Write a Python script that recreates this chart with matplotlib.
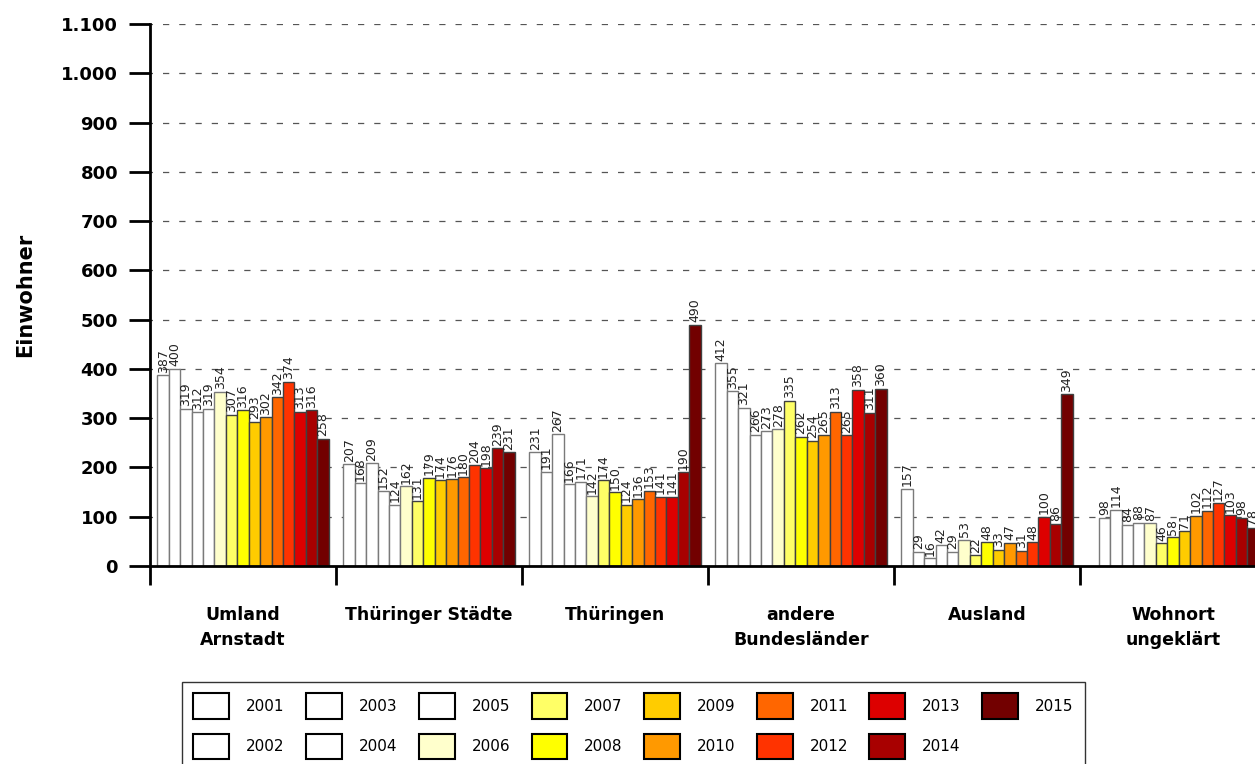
import numpy as np
import matplotlib
matplotlib.use("Agg")
import matplotlib.pyplot as plt
import matplotlib.patches as patches
from matplotlib.ticker import FuncFormatter

years = [str(y) for y in range(2001, 2016)]
categories = ["Umland\nArnstadt", "Thüringer Städte", "Thüringen",
              "andere\nBundesländer", "Ausland", "Wohnort\nungeklärt"]

# values per category, one per year 2001..2015 (nan = no value)
umland = [387, 400, 319, 312, 319, 354, 307, 316, 293, 302, 342, 374, 313, 316, 258]
staedte = [207, 168, 209, 152, 124, 162, 131, 179, 174, 176, 180, 204, 198, 239, 231]
thueringen = [231, 191, 267, 166, 171, 142, 174, 150, 124, 136, 153, 141, 141, 190, 490]
bundeslaender = [412, 355, 321, 266, 273, 278, 335, 262, 254, 265, 313, 265, 358, 311, 360]
ausland = [157, 29, 16, 42, 29, 53, 22, 48, 33, 47, 31, 48, 100, 86, 349]
ungeklaert = [np.nan, 98, 114, 84, 88, 87, 46, 58, 71, 102, 112, 127, 103, 98, 78]

colors = ["#FFFFFF", "#FFFFFF", "#FFFFFF", "#FFFFFF", "#FFFFFF", "#FFFFCC",
          "#FFFF66", "#FFFF00", "#FFCC00", "#FF9900", "#FF6600", "#FF3300",
          "#DD0000", "#A80000", "#720000"]

data = np.array([umland, staedte, thueringen, bundeslaender, ausland, ungeklaert], dtype=float)

W, H = 1255, 764
fig = plt.figure(figsize=(W / 100, H / 100), dpi=100)
# axes runs past the right edge of the figure like in the original
ax = fig.add_axes([150 / W, (H - 566) / H, 1116 / W, 542 / H])

n_years = len(years)
bw = 0.92 / n_years
x = np.arange(len(categories))
for j in range(n_years):
    pos = x + 0.5 + (j - (n_years - 1) / 2) * bw
    vals = data[:, j]
    edge = "#7a7a7a" if j < 6 else "#404040"
    ax.bar(pos, vals, width=bw, color=colors[j], edgecolor=edge, linewidth=1, zorder=3)
    for px, v in zip(pos, vals):
        if np.isnan(v):
            continue
        ax.text(px, v + 5, f"{int(v)}", rotation=90, ha="center", va="bottom",
                fontsize=9, color="#222222", zorder=4)

ax.set_xlim(0, 6)
ax.set_ylim(0, 1100)
ax.set_yticks(np.arange(0, 1101, 100))
ax.yaxis.set_major_formatter(FuncFormatter(lambda v, p: f"{int(v):,}".replace(",", ".")))
for t in ax.get_yticklabels():
    t.set_fontweight("bold")
ax.tick_params(axis="y", direction="out", length=15, width=2, labelsize=13, pad=8)

ax.set_xticks(np.arange(0, 7))
ax.set_xticklabels([])
ax.tick_params(axis="x", which="major", direction="out", length=14, width=2)
ax.set_xticks(x + 0.5, minor=True)
ax.set_xticklabels(categories, minor=True, fontweight="bold", fontsize=12.5,
                   linespacing=1.45)
ax.tick_params(axis="x", which="minor", length=0, pad=29)

for y in range(100, 1101, 100):
    ax.axhline(y, color="#555555", linestyle=(3, (5, 8)), linewidth=0.9, zorder=1)

for s in ["top", "right"]:
    ax.spines[s].set_visible(False)
ax.spines["left"].set_linewidth(2)
ax.spines["bottom"].set_linewidth(2)
ax.spines["bottom"].set_zorder(5)

fig.text(25 / W, (H - 295) / H, "Einwohner", rotation=90, ha="center", va="center",
         fontsize=15, fontweight="bold")

handles = [patches.Patch(facecolor=c, edgecolor="black", linewidth=1.5) for c in colors]
leg = fig.legend(handles, years, ncol=8, loc="upper left",
                 bbox_to_anchor=(182 / W, (H - 682) / H),
                 frameon=True, fancybox=False, edgecolor="black", fontsize=11,
                 handlelength=2.35, handleheight=2.2, columnspacing=1.4,
                 handletextpad=1.1, labelspacing=0.95, borderpad=0.75,
                 borderaxespad=0)
leg.get_frame().set_linewidth(1)

fig.savefig("out.png", dpi=100)
